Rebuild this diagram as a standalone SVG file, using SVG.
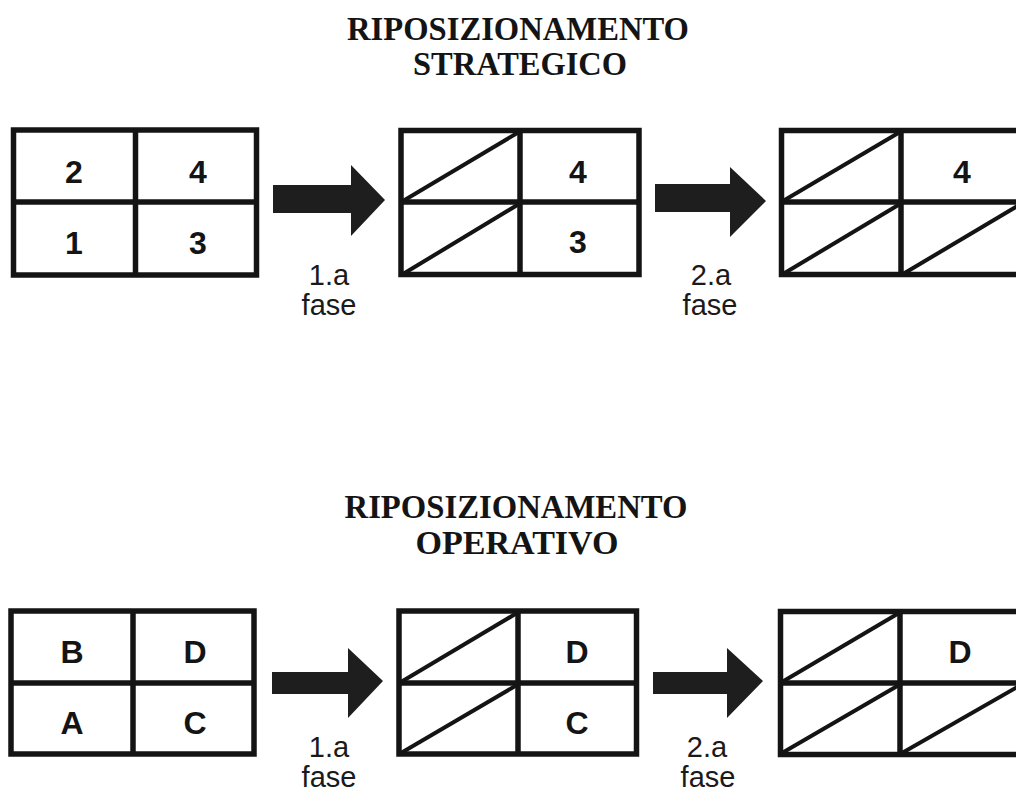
<svg xmlns="http://www.w3.org/2000/svg" width="1016" height="795" viewBox="0 0 1016 795">
  <style>
    .title { font-family: "Liberation Serif", "Times New Roman", serif; font-weight: bold; font-size: 33px; fill: #141414; text-anchor: middle; }
    .cell { font-family: "Liberation Sans", Arial, Helvetica, sans-serif; font-weight: bold; font-size: 32px; fill: #141414; text-anchor: middle; }
    .phase { font-family: "Liberation Sans", Arial, Helvetica, sans-serif; font-size: 29px; fill: #1a1a1a; text-anchor: middle; }
    .frame { fill: #ffffff; stroke: #141414; stroke-width: 5.5; }
    .div { stroke: #141414; stroke-width: 5.5; }
    .diag { stroke: #141414; stroke-width: 4; }
    .arrow { fill: #1e1e1e; }
  </style>
  <rect width="1016" height="795" fill="#ffffff"/>

  <!-- Strategic repositioning -->
  <g id="title-strategico">
    <text class="title" x="518" y="40" textLength="342" lengthAdjust="spacingAndGlyphs">RIPOSIZIONAMENTO</text>
    <text class="title" x="520" y="75" textLength="214" lengthAdjust="spacingAndGlyphs">STRATEGICO</text>
  </g>

  <g id="s-grid-1">
    <rect class="frame" x="13.5" y="130" width="243" height="145"/>
    <line class="div" x1="135.5" y1="130" x2="135.5" y2="275"/>
    <line class="div" x1="13.5" y1="202" x2="256.5" y2="202"/>
    <text class="cell" x="74" y="183">2</text>
    <text class="cell" x="198" y="183">4</text>
    <text class="cell" x="74" y="254">1</text>
    <text class="cell" x="198" y="254">3</text>
  </g>

  <g id="s-grid-2">
    <rect class="frame" x="401" y="130.5" width="238" height="144"/>
    <line class="div" x1="520" y1="130.5" x2="520" y2="274.5"/>
    <line class="div" x1="401" y1="202" x2="639" y2="202"/>
    <line class="diag" x1="403" y1="201" x2="519" y2="132"/>
    <line class="diag" x1="403" y1="274" x2="519" y2="204"/>
    <text class="cell" x="578" y="183">4</text>
    <text class="cell" x="578" y="253">3</text>
  </g>

  <g id="s-grid-3">
    <rect class="frame" x="781.5" y="130.5" width="246" height="144"/>
    <line class="div" x1="901" y1="130.5" x2="901" y2="274.5"/>
    <line class="div" x1="781.5" y1="202" x2="1027.5" y2="202"/>
    <line class="diag" x1="783" y1="201" x2="900" y2="132"/>
    <line class="diag" x1="783" y1="274" x2="900" y2="204"/>
    <line class="diag" x1="903" y1="274" x2="1026" y2="201"/>
    <text class="cell" x="962" y="183">4</text>
  </g>

  <!-- Operational repositioning -->
  <g id="title-operativo">
    <text class="title" x="516" y="518" textLength="343" lengthAdjust="spacingAndGlyphs">RIPOSIZIONAMENTO</text>
    <text class="title" x="517" y="554" textLength="203" lengthAdjust="spacingAndGlyphs">OPERATIVO</text>
  </g>

  <g id="o-grid-1">
    <rect class="frame" x="11" y="611" width="243" height="143"/>
    <line class="div" x1="133" y1="611" x2="133" y2="754"/>
    <line class="div" x1="11" y1="683" x2="254" y2="683"/>
    <text class="cell" x="72" y="663">B</text>
    <text class="cell" x="195" y="663">D</text>
    <text class="cell" x="72" y="734">A</text>
    <text class="cell" x="195" y="734">C</text>
  </g>

  <g id="o-grid-2">
    <rect class="frame" x="399" y="611" width="237.5" height="143"/>
    <line class="div" x1="518" y1="611" x2="518" y2="754"/>
    <line class="div" x1="399" y1="683" x2="636.5" y2="683"/>
    <line class="diag" x1="401" y1="682" x2="517" y2="613"/>
    <line class="diag" x1="401" y1="753" x2="517" y2="685"/>
    <text class="cell" x="577" y="663">D</text>
    <text class="cell" x="577" y="734">C</text>
  </g>

  <g id="o-grid-3">
    <rect class="frame" x="780.5" y="611.5" width="247" height="143"/>
    <line class="div" x1="900" y1="611.5" x2="900" y2="754.5"/>
    <line class="div" x1="780.5" y1="683" x2="1027.5" y2="683"/>
    <line class="diag" x1="782" y1="682" x2="899" y2="613"/>
    <line class="diag" x1="782" y1="753" x2="899" y2="685"/>
    <line class="diag" x1="902" y1="753" x2="1026" y2="682"/>
    <text class="cell" x="960" y="663">D</text>
  </g>

  <!-- Phase arrows -->
  <g id="connectors">
    <polygon class="arrow" points="273,185 351,185 351,165 385,200 351,236 351,213 273,213"/>
    <polygon class="arrow" points="655,184 730,184 730,167 766,201 730,237 730,212 655,212"/>
    <polygon class="arrow" points="272,672 348,672 348,648 383,681 348,718 348,694 272,694"/>
    <polygon class="arrow" points="653,672 727,672 727,648 763,681 727,718 727,694 653,694"/>
  </g>

  <g id="phase-labels">
    <text class="phase" x="329" y="285">1.a</text>
    <text class="phase" x="329" y="315">fase</text>
    <text class="phase" x="711" y="285">2.a</text>
    <text class="phase" x="710" y="315">fase</text>
    <text class="phase" x="329" y="757">1.a</text>
    <text class="phase" x="329" y="787">fase</text>
    <text class="phase" x="707" y="757">2.a</text>
    <text class="phase" x="708" y="787">fase</text>
  </g>
</svg>
